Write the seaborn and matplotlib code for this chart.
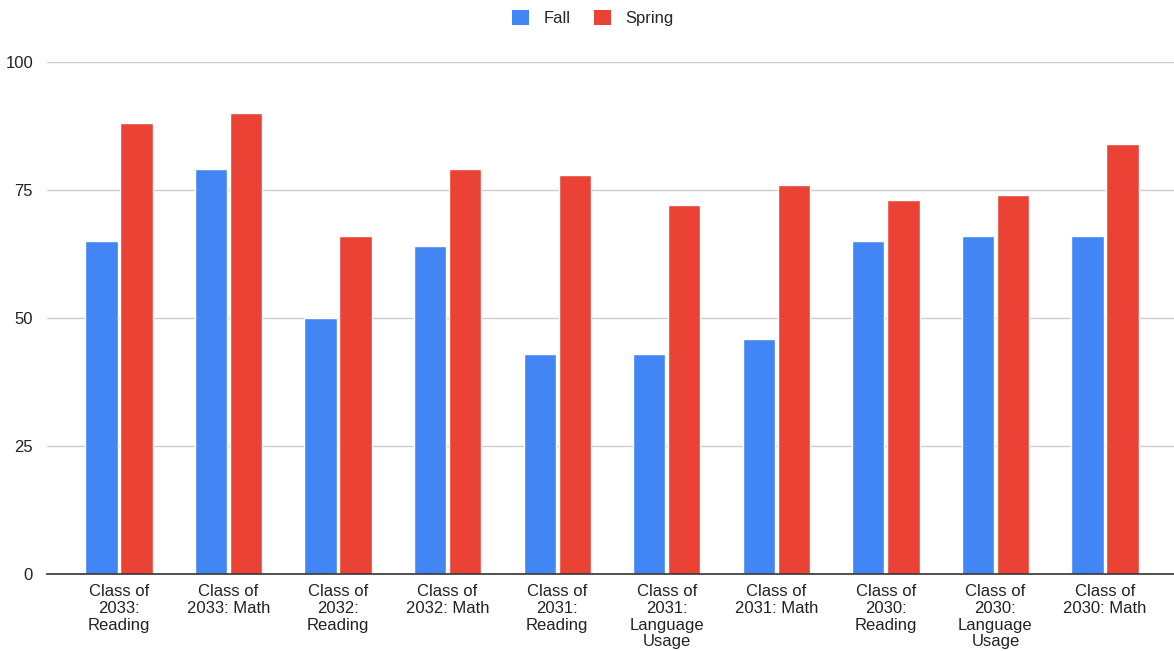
import matplotlib
matplotlib.use("Agg")
import matplotlib.pyplot as plt
import seaborn as sns
import pandas as pd
from matplotlib.patches import Patch

categories = [
    "Class of\n2033:\nReading",
    "Class of\n2033: Math",
    "Class of\n2032:\nReading",
    "Class of\n2032: Math",
    "Class of\n2031:\nReading",
    "Class of\n2031:\nLanguage\nUsage",
    "Class of\n2031: Math",
    "Class of\n2030:\nReading",
    "Class of\n2030:\nLanguage\nUsage",
    "Class of\n2030: Math",
]
fall = [65, 79, 50, 64, 43, 43, 46, 65, 66, 66]
spring = [88, 90, 66, 79, 78, 72, 76, 73, 74, 84]
series = ["Fall", "Spring"]
colors = ["#4285F4", "#EA4335"]
yticks = [0, 25, 50, 75, 100]

df = pd.DataFrame({
    "category": categories * 2,
    "value": fall + spring,
    "season": ["Fall"] * len(categories) + ["Spring"] * len(categories),
})

sns.set_style("white")
plt.rcParams["font.family"] = ["Liberation Sans", "DejaVu Sans"]

fig = plt.figure(figsize=(11.74, 6.51), dpi=100)
ax = fig.add_axes([0.04, 0.118, 0.96, 0.787])

sns.barplot(data=df, x="category", y="value", hue="season", order=categories,
            hue_order=series, palette=colors, width=0.64, gap=0.08,
            saturation=1, ax=ax, legend=False)

ax.set_ylim(0, 100)
ax.set_xlim(-0.657, 9.63)
ax.set_yticks(yticks)
ax.set_yticklabels([str(t) for t in yticks], fontsize=12, color="#222222")
ax.tick_params(axis="x", labelsize=12, colors="#222222", length=0, pad=7)
ax.tick_params(axis="y", length=0, pad=10)
for lbl in ax.get_xticklabels():
    lbl.set_linespacing(1.15)
ax.yaxis.grid(True, color="#cccccc", linewidth=1)
ax.set_axisbelow(True)
for s in ["top", "right", "left"]:
    ax.spines[s].set_visible(False)
ax.spines["bottom"].set_color("#333333")
ax.spines["bottom"].set_linewidth(1.2)
ax.set_xlabel("")
ax.set_ylabel("")

handles = [Patch(facecolor=c, edgecolor="none") for c in colors]
fig.legend(handles, series, loc="center", bbox_to_anchor=(0.505, 0.972), ncol=2,
           frameon=False, fontsize=12, handlelength=1.0, handleheight=1.0,
           columnspacing=1.4, handletextpad=0.9)

fig.savefig("out.png", dpi=100)
